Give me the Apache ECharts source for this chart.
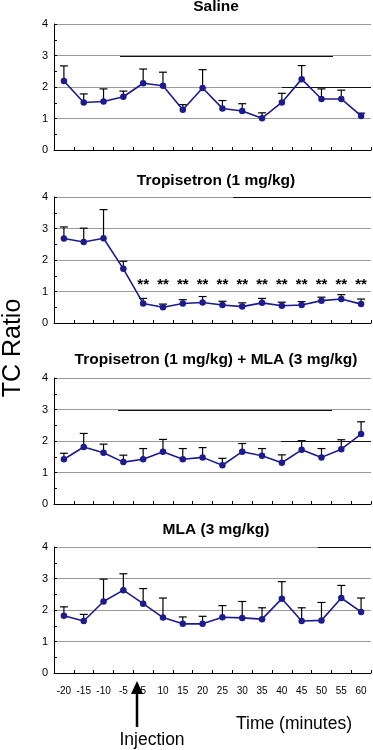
<!DOCTYPE html>
<html><head><meta charset="utf-8">
<script src="https://cdn.jsdelivr.net/npm/echarts@6/dist/echarts.min.js"></script>
<style>html,body{margin:0;padding:0;background:#fff}#c{width:373px;height:750px}</style>
</head><body><div id="c"></div>
<script>
const timeLabels = ['-20','-15','-10','-5','5','10','15','20','25','30','35','40','45','50','55','60'];
const panelTitles = ['Saline','Tropisetron (1 mg/kg)','Tropisetron (1 mg/kg) + MLA (3 mg/kg)','MLA (3 mg/kg)'];
const yTicks = [0,1,2,3,4];

const salineMean  = [2.19,1.51,1.54,1.69,2.12,2.04,1.28,1.97,1.32,1.24,1.01,1.51,2.25,1.62,1.62,1.08];
const salineUpper = [2.67,1.78,1.94,1.87,2.57,2.47,1.44,2.55,1.57,1.47,1.18,1.80,2.68,1.94,1.90,1.17];

const tropMean  = [2.68,2.57,2.69,1.72,0.62,0.50,0.62,0.65,0.57,0.52,0.64,0.55,0.57,0.71,0.76,0.60];
const tropUpper = [3.05,3.01,3.60,1.96,0.78,0.60,0.74,0.84,0.69,0.64,0.78,0.66,0.68,0.82,0.90,0.76];
const tropSig   = ['','','','','**','**','**','**','**','**','**','**','**','**','**','**'];
const tropSigLevel = 1.27;

const tropMlaMean  = [1.42,1.81,1.63,1.33,1.42,1.66,1.42,1.48,1.23,1.66,1.53,1.31,1.72,1.48,1.74,2.22];
const tropMlaUpper = [1.61,2.24,1.90,1.55,1.76,2.05,1.76,1.79,1.45,1.92,1.76,1.56,2.01,1.76,2.04,2.61];

const mlaMean  = [1.82,1.65,2.27,2.63,2.20,1.76,1.56,1.56,1.77,1.75,1.71,2.36,1.65,1.67,2.38,1.94];
const mlaUpper = [2.10,1.86,2.98,3.15,2.68,2.38,1.78,1.80,2.14,2.27,2.07,2.90,2.07,2.24,2.78,2.38];

const panels = [
  {mean: salineMean, upper: salineUpper, sig: null},
  {mean: tropMean, upper: tropUpper, sig: tropSig},
  {mean: tropMlaMean, upper: tropMlaUpper, sig: null},
  {mean: mlaMean, upper: mlaUpper, sig: null}
];

// darker stretches of the gridlines seen in the source image: [panel, y value, x from, x to]
const darkGridSegments = [[0,3,120,333],[0,2,282,371],[1,4,233,371],[2,3,118,332],[2,2,281,371],[3,4,318,371]];

const gridTops = [24, 197, 378, 547];
const gridH = 126;
const titleCenters = [8, 182, 361, 531];
const lineColor = '#1c1c8e';
const font = 'Liberation Sans, Arial, Helvetica, sans-serif';

const chart = echarts.init(document.getElementById('c'), null, {renderer: 'canvas'});

const grids = [], xAxes = [], yAxes = [], series = [], titles = [];

panels.forEach((p, k) => {
  grids.push({left: 54, right: 2, top: gridTops[k], height: gridH, containLabel: false});
  titles.push({
    text: panelTitles[k], left: 216, top: titleCenters[k] - 9, textAlign: 'center', padding: 0,
    textStyle: {fontFamily: font, fontWeight: 'bold', fontSize: 15.5, color: '#000'}
  });
  xAxes.push({
    type: 'category', gridIndex: k, data: timeLabels, boundaryGap: true,
    axisLine: {show: true, lineStyle: {color: '#000', width: 1}},
    axisTick: {show: true, inside: true, length: 3, interval: 0, lineStyle: {color: '#000'}},
    axisLabel: {show: k === 3, interval: 0, margin: 13, fontSize: 10, color: '#000', fontFamily: font},
    splitLine: {show: false}
  });
  yAxes.push({
    type: 'value', gridIndex: k, min: 0, max: 4, interval: 1,
    axisLine: {show: true, lineStyle: {color: '#000', width: 1}},
    axisTick: {show: true, inside: true, length: 3, lineStyle: {color: '#000'}},
    minorTick: {show: true, splitNumber: 2, length: 3, lineStyle: {color: '#000'}},
    axisLabel: {fontSize: 11, color: '#000', margin: 6, fontFamily: font,
      formatter: v => yTicks.includes(v) ? String(v) : ''},
    splitLine: {show: true, lineStyle: {color: '#999', width: 1}}
  });
  series.push({
    type: 'custom', xAxisIndex: k, yAxisIndex: k, z: 1,
    data: p.mean.map((m, i) => [i, m, p.upper[i]]),
    encode: {x: 0, y: [1, 2]},
    renderItem: (params, api) => {
      const i = api.value(0), m = api.value(1), u = api.value(2);
      const a = api.coord([i, m]), b = api.coord([i, u]);
      return {type: 'group', children: [
        {type: 'line', shape: {x1: a[0], y1: a[1], x2: b[0], y2: b[1]}, style: {stroke: '#000', lineWidth: 1.2}},
        {type: 'line', shape: {x1: b[0] - 4, y1: b[1], x2: b[0] + 4, y2: b[1]}, style: {stroke: '#000', lineWidth: 1.2}}
      ]};
    }
  });
  series.push({
    type: 'line', xAxisIndex: k, yAxisIndex: k, z: 3, data: p.mean,
    symbol: 'circle', symbolSize: 6.5, showSymbol: true,
    lineStyle: {color: lineColor, width: 1.6},
    itemStyle: {color: lineColor},
    animation: false
  });
  if (p.sig) {
    series.push({
      type: 'custom', xAxisIndex: k, yAxisIndex: k, z: 4,
      data: p.sig.map((s, i) => [i, tropSigLevel]),
      encode: {x: 0, y: 1},
      renderItem: (params, api) => {
        const s = p.sig[params.dataIndex];
        if (!s) return null;
        const c = api.coord([api.value(0), api.value(1)]);
        return {type: 'text', x: c[0], y: c[1] + 2,
          style: {text: s, fontSize: 15, fontWeight: 'bold', fontFamily: font, fill: '#000', align: 'center', verticalAlign: 'middle'}};
      }
    });
  }
});

chart.setOption({
  animation: false,
  backgroundColor: '#fff',
  title: titles,
  grid: grids,
  xAxis: xAxes,
  yAxis: yAxes,
  series: series
});

const graphics = darkGridSegments.map(([k, v, x1, x2]) => {
  const y = Math.round(chart.convertToPixel({yAxisIndex: k}, v)) + 0.5;
  return {type: 'line', z: 2, shape: {x1: x1, y1: y, x2: x2, y2: y}, style: {stroke: '#111', lineWidth: 1.2}};
});
graphics.push(
  {type: 'text', x: 13, y: 348, rotation: Math.PI / 2,
    style: {text: 'TC Ratio', fontSize: 25, fontFamily: font, fill: '#000', align: 'center', verticalAlign: 'middle'}},
  {type: 'text', x: 294, y: 724,
    style: {text: 'Time (minutes)', fontSize: 17.5, fontFamily: font, fill: '#000', align: 'center', verticalAlign: 'middle'}},
  {type: 'text', x: 152, y: 740,
    style: {text: 'Injection', fontSize: 17.5, fontFamily: font, fill: '#000', align: 'center', verticalAlign: 'middle'}},
  {type: 'line', shape: {x1: 137, y1: 727, x2: 137, y2: 690}, style: {stroke: '#000', lineWidth: 2.5}},
  {type: 'polygon', shape: {points: [[137, 681], [131, 694], [143, 694]]}, style: {fill: '#000'}}
);
chart.setOption({graphic: graphics});
</script></body></html>
